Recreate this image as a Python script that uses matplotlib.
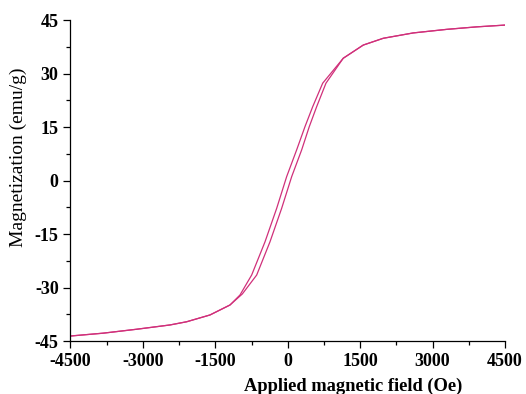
import numpy as np
import matplotlib.pyplot as plt
from matplotlib.ticker import MultipleLocator

# descending branch (field swept from +4500 to -4500 Oe)
H_desc = [4500, 3913, 3292, 2600, 1979, 1565, 1150, 724, 517, 357, 185, -22,
          -229, -471, -747, -989, -1196, -1611, -2093, -2439, -3129, -3821, -4500]
M_desc = [43.6, 43.1, 42.4, 41.4, 39.9, 38.0, 34.3, 27.3, 20.7, 15.1, 8.6, 1.1,
          -7.8, -17.2, -26.5, -32.1, -34.9, -37.7, -39.6, -40.5, -41.7, -42.8, -43.6]

# ascending branch (field swept from -4500 to +4500 Oe)
H_asc = [-4500, -3821, -3129, -2439, -2093, -1611, -1196, -940, -643, -368, -126,
         82, 289, 446, 599, 792, 1150, 1565, 1979, 2600, 3292, 3913, 4500]
M_asc = [-43.6, -42.8, -41.7, -40.5, -39.6, -37.7, -34.9, -31.8, -26.5, -17.2, -7.8,
         1.1, 8.6, 15.1, 20.7, 27.3, 34.3, 38.0, 39.9, 41.4, 42.4, 43.1, 43.6]

plt.rcParams['font.family'] = ['Liberation Serif', 'DejaVu Serif']
plt.rcParams['axes.unicode_minus'] = False

fig = plt.figure(figsize=(5.26, 3.94), dpi=100)
ax = fig.add_axes([0.134, 0.1345, 0.826, 0.8145])

color = '#d0307a'
ax.plot(H_desc, M_desc, color=color, linewidth=0.9)
ax.plot(H_asc, M_asc, color=color, linewidth=0.9)

ax.set_xlim(-4500, 4500)
ax.set_ylim(-45, 45)
ax.xaxis.set_major_locator(MultipleLocator(1500))
ax.xaxis.set_minor_locator(MultipleLocator(750))
ax.yaxis.set_major_locator(MultipleLocator(15))
ax.yaxis.set_minor_locator(MultipleLocator(7.5))

ax.spines['top'].set_visible(False)
ax.spines['right'].set_visible(False)
for s in ('left', 'bottom'):
    ax.spines[s].set_linewidth(0.9)

ax.tick_params(which='major', direction='out', length=5, width=0.9, labelsize=13)
ax.tick_params(which='minor', direction='out', length=3, width=0.9)
for lab in ax.get_xticklabels() + ax.get_yticklabels():
    lab.set_fontweight('bold')

ax.set_xlabel('Applied magnetic field (Oe)', fontsize=13.3, fontweight='bold')
ax.xaxis.set_label_coords(0.65, -0.115)
ax.set_ylabel('Magnetization (emu/g)', fontsize=14)
ax.yaxis.set_label_coords(-0.1, 0.573)

fig.savefig('out.png', dpi=100)
